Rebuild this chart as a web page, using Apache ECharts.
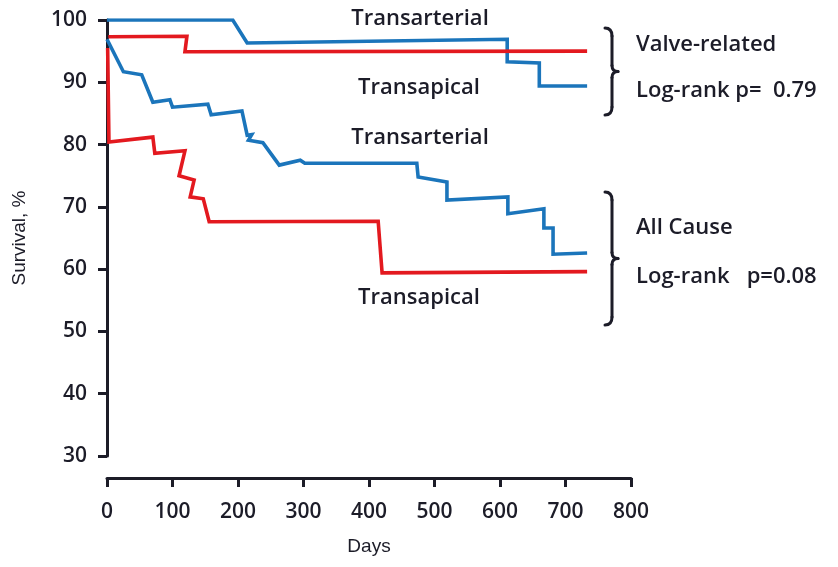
<!DOCTYPE html>
<html>
<head>
<meta charset="utf-8">
<script src="https://cdn.jsdelivr.net/npm/echarts@6/dist/echarts.min.js"></script>
<style>html,body{margin:0;padding:0;background:#fff}#c{width:838px;height:567px}</style>
</head>
<body>
<div id="c"></div>
<script>
// ---- Data ----
const xTicks = [0, 100, 200, 300, 400, 500, 600, 700, 800];
const yTicks = [30, 40, 50, 60, 70, 80, 90, 100];

const valveTransarterialDays = [0, 192, 214, 611, 611, 660, 660, 733];
const valveTransarterialSurv = [100, 100, 96.3, 96.9, 93.3, 93.1, 89.4, 89.4];

const valveTransapicalDays = [2, 122, 119, 733];
const valveTransapicalSurv = [97.3, 97.4, 94.9, 95.0];

const allTransarterialDays = [0, 25, 53, 70, 96, 100, 154, 159, 206, 214, 221, 216, 238, 263, 295, 302, 473, 475, 519, 519, 612, 612, 667, 667, 681, 681, 733];
const allTransarterialSurv = [96.9, 91.7, 91.2, 86.8, 87.2, 86.0, 86.5, 84.8, 85.4, 81.5, 81.6, 80.7, 80.3, 76.7, 77.5, 77.0, 77.0, 74.8, 74.0, 71.1, 71.6, 68.9, 69.7, 66.6, 66.6, 62.4, 62.6];

const allTransapicalDays = [1, 3, 70, 73, 119, 110, 133, 127, 147, 156, 414, 420, 733];
const allTransapicalSurv = [95.5, 80.4, 81.2, 78.6, 79.0, 75.0, 74.3, 71.6, 71.3, 67.6, 67.7, 59.4, 59.6];

const curveLabels = ['Transarterial', 'Transapical', 'Transarterial', 'Transapical'];
const groupLabels = ['Valve-related', 'Log-rank p=  0.79', 'All Cause', 'Log-rank   p=0.08'];

// ---- Helpers ----
const pairs = (xs, ys) => xs.map((x, i) => [x, ys[i]]);
const BLUE = '#1b75bb';
const RED = '#e3191f';
const INK = '#1c1c28';
const TXT = "'Open Sans', 'Noto Sans', sans-serif";
const NAMEFONT = "'Liberation Sans', Arial, sans-serif";

function line(name, xs, ys, color) {
  return {
    name, type: 'line', data: pairs(xs, ys), showSymbol: false, symbol: 'none',
    lineStyle: { color, width: 3.6, join: 'miter' }, animation: false, z: 3
  };
}

const braceStyle = { fill: null, stroke: INK, lineWidth: 3, lineCap: 'round' };
function brace(x0, y0, y1) {
  const ym = (y0 + y1) / 2;
  const xm = x0 + 7;
  const q = (x1, y1_, cx, cy, x2, y2) => ({ type: 'bezierCurve', shape: { x1, y1: y1_, cpx1: cx, cpy1: cy, x2, y2 }, style: braceStyle, z: 10 });
  const l = (x1, y1_, x2, y2) => ({ type: 'line', shape: { x1, y1: y1_, x2, y2 }, style: braceStyle, z: 10 });
  return [
    q(x0, y0, xm, y0, xm, y0 + 8),
    l(xm, y0 + 8, xm, ym - 6),
    q(xm, ym - 6, xm, ym, x0 + 13, ym),
    q(x0 + 13, ym, xm, ym, xm, ym + 6),
    l(xm, ym + 6, xm, y1 - 8),
    q(xm, y1 - 8, xm, y1, x0, y1)
  ];
}

function label(text, x, y, align) {
  return {
    type: 'text', x, y,
    style: { text, fill: INK, font: '600 22px ' + TXT, textAlign: align || 'center', textVerticalAlign: 'middle' },
    z: 10
  };
}

const chart = echarts.init(document.getElementById('c'), null, { renderer: 'canvas' });
chart.setOption({
  backgroundColor: '#ffffff',
  animation: false,
  grid: { left: 107, right: 207, top: 20, bottom: 111, containLabel: false },
  xAxis: {
    type: 'value', min: xTicks[0], max: xTicks[xTicks.length - 1], interval: 100,
    offset: 22,
    name: 'Days', nameLocation: 'middle', nameGap: 59,
    nameTextStyle: { fontFamily: NAMEFONT, fontSize: 19, color: INK },
    axisLine: { show: true, lineStyle: { color: INK, width: 3 } },
    axisTick: { show: true, inside: false, length: 9, lineStyle: { color: INK, width: 3 } },
    axisLabel: { margin: 24, fontFamily: TXT, fontWeight: 600, fontSize: 21, color: INK },
    splitLine: { show: false }
  },
  yAxis: {
    type: 'value', min: yTicks[0], max: yTicks[yTicks.length - 1], interval: 10,
    offset: 2,
    name: 'Survival, %', nameLocation: 'middle', nameGap: 76, nameRotate: 90,
    nameTextStyle: { fontFamily: NAMEFONT, fontSize: 19, color: INK },
    axisLine: { show: true, lineStyle: { color: INK, width: 3 } },
    axisTick: { show: true, inside: false, length: 9, lineStyle: { color: INK, width: 3 } },
    axisLabel: { margin: 18, fontFamily: TXT, fontWeight: 600, fontSize: 21, color: INK },
    splitLine: { show: false }
  },
  series: [
    line('Valve Transarterial', valveTransarterialDays, valveTransarterialSurv, BLUE),
    line('Valve Transapical', valveTransapicalDays, valveTransapicalSurv, RED),
    line('All Transarterial', allTransarterialDays, allTransarterialSurv, BLUE),
    line('All Transapical', allTransapicalDays, allTransapicalSurv, RED)
  ],
  graphic: [
    label(curveLabels[0], 420, 19),
    label(curveLabels[1], 419, 88),
    label(curveLabels[2], 420, 138),
    label(curveLabels[3], 419, 298),
    label(groupLabels[0], 636, 45, 'left'),
    label(groupLabels[1], 636, 91, 'left'),
    label(groupLabels[2], 636, 228, 'left'),
    label(groupLabels[3], 636, 277, 'left')
  ].concat(brace(605, 28, 115), brace(605, 192, 325))
});
</script>
</body>
</html>
